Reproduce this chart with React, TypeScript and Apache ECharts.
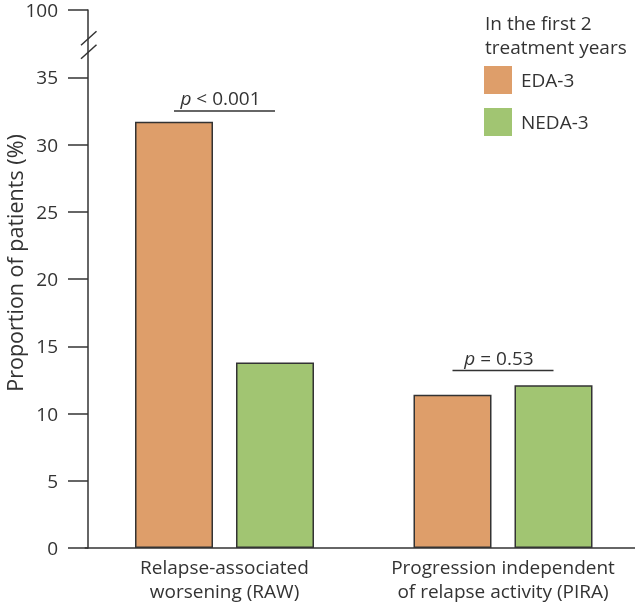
import React, { useEffect, useRef } from 'react';
import * as echarts from 'echarts';

const categories = ['Relapse-associated\nworsening (RAW)', 'Progression independent\nof relapse activity (PIRA)'];
const edaValues = [31.7, 11.4];
const nedaValues = [13.8, 12.1];
const pLabels = ['p < 0.001', 'p = 0.53'];
const pLevels = [32.5, 13.2];
const yTickLabels: Record<number, string> = { 0: '0', 5: '5', 10: '10', 15: '15', 20: '20', 25: '25', 30: '30', 35: '35', 40: '100' };
const breakLevels = [37.9, 36.9];

const FONT = 'Open Sans';
const TEXT = '#333333';
const EDA_COLOR = '#DE9E6A';
const NEDA_COLOR = '#A1C572';
const BAR_W = 78;
const BAR_GAP = 23;
const FS = 19;

export default function App() {
  const ref = useRef<HTMLDivElement>(null);
  useEffect(() => {
    if (!ref.current) return;
    const chart = echarts.init(ref.current, undefined, { renderer: 'svg' });
    chart.setOption({
      animation: false,
      textStyle: { fontFamily: FONT, color: TEXT },
      title: {
        text: 'In the first 2\ntreatment years',
        left: 485,
        top: 11,
        padding: 0,
        textStyle: { fontFamily: FONT, fontSize: FS, fontWeight: 'normal', color: TEXT, lineHeight: 24 },
      },
      legend: {
        orient: 'vertical',
        left: 484,
        top: 66,
        padding: 0,
        itemWidth: 28,
        itemHeight: 28,
        itemGap: 14,
        icon: 'rect',
        itemStyle: { borderWidth: 0 },
        textStyle: { fontFamily: FONT, fontSize: FS, color: TEXT, padding: [0, 0, 0, 4] },
        data: ['EDA-3', 'NEDA-3'],
      },
      grid: { left: 85.25, width: 557, top: 10, bottom: 56, containLabel: false, outerBoundsMode: 'none' },
      xAxis: {
        type: 'category',
        data: categories,
        axisLine: { lineStyle: { color: TEXT, width: 1.5 } },
        axisTick: { show: false },
        axisLabel: { fontFamily: FONT, fontSize: FS, color: TEXT, margin: 7, lineHeight: 24, interval: 0 },
      },
      yAxis: {
        type: 'value',
        min: 0,
        max: 40,
        interval: 5,
        offset: -2.75,
        splitLine: { show: false },
        axisLine: { show: true, lineStyle: { color: TEXT, width: 1.5 } },
        axisTick: { show: true, length: 20, lineStyle: { color: TEXT, width: 1.5 } },
        axisLabel: {
          fontFamily: FONT,
          fontSize: FS,
          color: TEXT,
          margin: 30,
          lineHeight: 14,
          formatter: (v: number) => yTickLabels[v] ?? '',
        },
      },
      series: [
        {
          name: 'EDA-3',
          type: 'bar',
          data: edaValues,
          barWidth: BAR_W,
          barGap: `${(BAR_GAP / BAR_W) * 100}%`,
          itemStyle: { color: EDA_COLOR, borderColor: '#333', borderWidth: 1.5 },
        },
        {
          name: 'NEDA-3',
          type: 'bar',
          data: nedaValues,
          barWidth: BAR_W,
          barGap: `${(BAR_GAP / BAR_W) * 100}%`,
          itemStyle: { color: NEDA_COLOR, borderColor: '#333', borderWidth: 1.5 },
        },
      ],
    });

    const half = (BAR_W + BAR_GAP) / 2;
    const graphics: any[] = [];
    pLevels.forEach((lvl, i) => {
      const [cx, cy] = chart.convertToPixel({ gridIndex: 0 }, [i, lvl]) as number[];
      graphics.push({
        type: 'line',
        shape: { x1: cx - half, y1: cy, x2: cx + half, y2: cy },
        style: { stroke: '#333', lineWidth: 1.5 },
      });
      const parts = pLabels[i].split(' ');
      graphics.push({
        type: 'text',
        x: cx - 4,
        y: cy - 3,
        style: {
          text: `{i|${parts[0]}} ${parts.slice(1).join(' ')}`,
          rich: { i: { fontStyle: 'italic', fontFamily: FONT, fontSize: FS, fill: TEXT } },
          fontFamily: FONT,
          fontSize: FS,
          fill: TEXT,
          align: 'center',
          verticalAlign: 'bottom',
        },
      });
    });
    breakLevels.forEach((lvl) => {
      const [, ay] = chart.convertToPixel({ gridIndex: 0 }, [0, lvl]) as number[];
      graphics.push({
        type: 'line',
        shape: { x1: 81, y1: ay + 7, x2: 96.5, y2: ay - 7 },
        style: { stroke: '#333', lineWidth: 1.5 },
      });
    });
    graphics.push({
      type: 'text',
      x: 14,
      y: 263,
      rotation: Math.PI / 2,
      style: {
        text: 'Proportion of patients (%)',
        fontFamily: FONT,
        fontSize: 21.5,
        fill: TEXT,
        align: 'center',
        verticalAlign: 'middle',
      },
    });
    chart.setOption({ graphic: graphics });
    return () => chart.dispose();
  }, []);
  return <div ref={ref} style={{ position: 'fixed', left: 0, top: 0, width: 635, height: 604 }} />;
}
